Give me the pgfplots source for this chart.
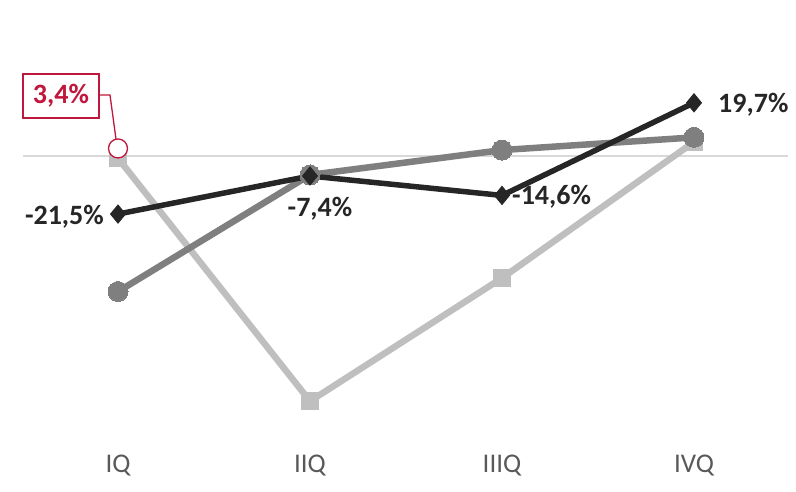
\documentclass[border=0pt]{standalone}
\usepackage{pgfplots}
\pgfplotsset{compat=1.18}
\usepackage{fontspec}
\setmainfont{Carlito}
\definecolor{lg}{HTML}{BFBFBF}
\definecolor{mg}{HTML}{7F7F7F}
\definecolor{dk}{HTML}{262626}
\definecolor{zl}{HTML}{D9D9D9}
\definecolor{rd}{HTML}{C0183C}
\definecolor{tk}{HTML}{595959}
\begin{document}
\begin{tikzpicture}
\begin{axis}[
  scale only axis,
  width=796pt, height=491pt,
  xmin=-0.6146, xmax=3.5313,
  ymin=-124.07, ymax=57.78,
  axis line style={draw=none},
  tick style={draw=none},
  major tick length=0pt,
  ytick=\empty,
  xtick={0,1,2,3},
  xticklabels={IQ,IIQ,IIIQ,IVQ},
  xticklabel style={anchor=center, yshift=25.5pt, font=\fontsize{27}{29}\selectfont, text=tk},
  clip=false,
]
\addplot[draw=zl, line width=2pt, forget plot] coordinates {(-0.495,0) (3.49,0)};
\addplot[lg, line width=6.5pt, mark=square*, mark size=8.2pt, mark options={fill=lg, draw=lg, line width=0pt}]
  coordinates {(0,-0.8) (1,-90.8) (2,-45.2) (3,5.2)};
\addplot[mg, line width=6.5pt, mark=*, mark size=10pt, mark options={fill=mg, draw=mg, line width=0pt}]
  coordinates {(0,-50.2) (1,-7.0) (2,2.2) (3,6.9)};
\addplot[dk, line width=5.5pt, mark=diamond*, mark size=9pt, mark options={fill=dk, draw=dk, line width=1pt, xscale=1.1}]
  coordinates {(0,-21.5) (1,-7.4) (2,-14.6) (3,19.7)};
\addplot[only marks, mark=*, mark size=9.5pt, mark options={fill=white, draw=rd, line width=1.3pt}]
  coordinates {(0,2.8)};
\draw[rd, line width=1.3pt] (axis cs:-0.099,22.6) -- (axis cs:-0.0417,22.6) -- (axis cs:-0.005,3.4);
\node[draw=rd, line width=1.3pt, fill=white, text=rd, font=\fontsize{28}{30}\selectfont\bfseries, minimum width=76pt, minimum height=44pt, inner sep=0pt] at (axis cs:-0.297,22.2) {3,4\%};
\begin{scope}[every node/.style={text=dk, font=\fontsize{28}{30}\selectfont\bfseries, inner sep=0pt}]
\node[anchor=east] at (axis cs:-0.073,-22.6) {-21,5\%};
\node[anchor=center] at (axis cs:1.052,-19.6) {-7,4\%};
\node[anchor=west] at (axis cs:2.052,-15.2) {-14,6\%};
\node[anchor=west] at (axis cs:3.125,19.0) {19,7\%};
\end{scope}
\end{axis}
\end{tikzpicture}
\end{document}
